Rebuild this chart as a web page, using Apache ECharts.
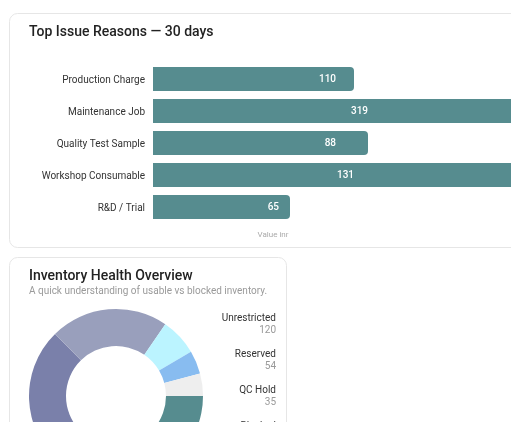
<!DOCTYPE html>
<html>
<head>
<meta charset="utf-8">
<style>
html,body{margin:0;padding:0;background:#fff;overflow:hidden;}
#main{width:511px;height:422px;}
</style>
<script src="https://cdn.jsdelivr.net/npm/echarts@6/dist/echarts.min.js"></script>
</head>
<body>
<div id="main"></div>
<script>
var reasons = ['Production Charge', 'Maintenance Job', 'Quality Test Sample', 'Workshop Consumable', 'R&D / Trial'];
// printed numbers and drawn lengths do not agree in the picture, so both are kept
var reasonLabels = [110, 319, 88, 131, 65];
var reasonBars = [201, 480, 215, 480, 137];
var reasonLabelAt = [183, 215, 183, 201, 126];

// the last slices fall below the window, only the first four names show
var statusNames = ['Unrestricted', 'Reserved', 'QC Hold', 'Blocked', 'Expired', 'Other'];
var statusCounts = [120, 54, 35, 27, 18, 9];
var sliceShares = [110, 115.5, 79, 25, 15.5, 15];
var sliceColors = ['#568c8f', '#7a80aa', '#999fbc', '#bbf4ff', '#88bcf0', '#eeeeee'];

var font = 'Roboto';
var myChart = echarts.init(document.getElementById('main'), null, {renderer: 'canvas'});

var pieData = [];
for (var i = 0; i < statusNames.length; i++) {
	pieData.push({name: statusNames[i], value: sliceShares[i], itemStyle: {color: sliceColors[i], borderWidth: 0}});
}

var labelAnchors = [];
for (var i = 0; i < reasons.length; i++) {
	labelAnchors.push({value: reasonLabelAt[i], label: {formatter: String(reasonLabels[i])}});
}

var option = {
	animation: false,
	textStyle: {fontFamily: font},
	graphic: [
		{type: 'rect', z: 0, silent: true, shape: {x: 9.5, y: 13.5, width: 540, height: 234, r: 8},
			style: {fill: '#fff', stroke: '#e6e6e6', lineWidth: 1}},
		{type: 'rect', z: 0, silent: true, shape: {x: 9.5, y: 257.5, width: 277, height: 220, r: 8},
			style: {fill: '#fff', stroke: '#e6e6e6', lineWidth: 1}}
	],
	title: [
		{text: 'Top Issue Reasons — 30 days', left: 29, top: 25, padding: 0,
			textStyle: {fontFamily: font, fontSize: 14, fontWeight: 500, color: '#222'}},
		{text: 'Inventory Health Overview', left: 29, top: 269, padding: 0,
			subtext: 'A quick understanding of usable vs blocked inventory.', itemGap: 3,
			textStyle: {fontFamily: font, fontSize: 14, fontWeight: 500, color: '#222'},
			subtextStyle: {fontFamily: font, fontSize: 10, color: '#9a9a9a'}}
	],
	grid: {left: 153, top: 63, width: 240, height: 160},
	xAxis: {
		type: 'value', min: 0, max: 240,
		name: 'Value inr', nameLocation: 'middle', nameGap: 8,
		nameTextStyle: {fontSize: 8, color: '#aaa', fontFamily: font},
		axisLine: {show: false}, axisTick: {show: false}, axisLabel: {show: false}, splitLine: {show: false}
	},
	yAxis: {
		type: 'category', data: reasons, inverse: true,
		axisLine: {show: false}, axisTick: {show: false},
		axisLabel: {
			margin: 8, fontFamily: font,
			formatter: '{a|{value}}',
			rich: {a: {fontSize: 10, color: '#333', fontFamily: font, padding: [3, 0, 0, 0]}}
		}
	},
	legend: {
		orient: 'vertical', right: 230, top: 313, height: 300, align: 'right',
		data: statusNames.slice(0, 4), itemWidth: 0, itemHeight: 0, itemGap: 14, icon: 'none', padding: 0,
		selectedMode: false,
		formatter: function(name) {
			return '{n|' + name + '}\n{v|' + statusCounts[statusNames.indexOf(name)] + '}';
		},
		textStyle: {
			fontFamily: font,
			rich: {
				n: {fontSize: 10, color: '#333', lineHeight: 12, align: 'right', fontFamily: font},
				v: {fontSize: 10, color: '#999', lineHeight: 12, align: 'right', fontFamily: font}
			}
		}
	},
	series: [
		{
			type: 'bar', data: reasonBars, barWidth: 24, clip: false, silent: true,
			itemStyle: {color: '#568c8f', borderRadius: [0, 4, 4, 0]}
		},
		{
			type: 'bar', data: labelAnchors, barWidth: 24, barGap: '-100%', clip: false, silent: true,
			itemStyle: {color: 'transparent'},
			label: {show: true, position: 'insideRight', distance: 0, color: '#fff', fontSize: 10, fontWeight: 500, fontFamily: font}
		},
		{
			type: 'pie', center: [116, 396], radius: [50, 87], startAngle: 0, clockwise: true,
			label: {show: false}, labelLine: {show: false}, silent: true,
			data: pieData
		}
	]
};
myChart.setOption(option);
</script>
</body>
</html>
